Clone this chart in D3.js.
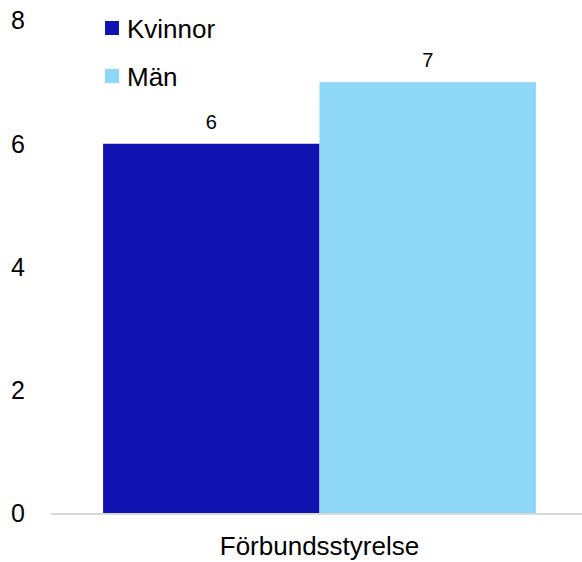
<!DOCTYPE html>
<html><head><meta charset="utf-8">
<script src="https://cdn.jsdelivr.net/npm/d3@7"></script>
<style>body{margin:0;background:#fff}svg{display:block;font-family:"Liberation Sans",Arial,sans-serif}</style>
</head><body><svg id="c" width="582" height="562"></svg>
<script>
const categories = ["Förbundsstyrelse"];
const seriesNames = ["Kvinnor", "Män"];
const kvinnor = [6];
const man = [7];
const yTicks = [0, 2, 4, 6, 8];
const colors = ["#1114b0", "#8ed7f7"];

const svg = d3.select("#c");
const y = d3.scaleLinear().domain([0, 8]).range([513.5, 20.5]);
const x0 = d3.scaleBand().domain(categories).range([51, 588]).paddingInner(0.194).paddingOuter(0.097);
const x1 = d3.scaleBand().domain(seriesNames).range([0, x0.bandwidth()]);
const seriesVals = [kvinnor, man];

// y tick labels
svg.append("g").selectAll("text").data(yTicks).join("text")
  .attr("x", 25).attr("y", d => y(d)).attr("dy", "0.35em")
  .attr("text-anchor", "end").attr("font-size", 25).attr("fill", "#000")
  .text(d => d);

// bars
categories.forEach((c, ci) => {
  seriesNames.forEach((s, si) => {
    const v = seriesVals[si][ci];
    svg.append("rect")
      .attr("x", x0(c) + x1(s)).attr("y", y(v))
      .attr("width", x1.bandwidth()).attr("height", y(0) - y(v))
      .attr("fill", colors[si]);
    svg.append("text")
      .attr("x", x0(c) + x1(s) + x1.bandwidth() / 2).attr("y", y(v) - 15)
      .attr("text-anchor", "middle").attr("font-size", 20).attr("fill", "#000")
      .text(v);
  });
  svg.append("text")
    .attr("x", x0(c) + x0.bandwidth() / 2).attr("y", 555)
    .attr("text-anchor", "middle").attr("font-size", 26).attr("fill", "#000")
    .text(c);
});

// baseline
svg.append("line").attr("x1", 51).attr("x2", 582).attr("y1", y(0) + 0.5).attr("y2", y(0) + 0.5)
  .attr("stroke", "#d9d9d9").attr("stroke-width", 2);

// legend
const lg = svg.append("g");
seriesNames.forEach((s, i) => {
  lg.append("rect").attr("x", 105).attr("y", 21 + i * 48).attr("width", 14).attr("height", 14).attr("fill", colors[i]);
  lg.append("text").attr("x", 127).attr("y", 38 + i * 48).attr("font-size", 26).attr("fill", "#000").text(s);
});
</script></body></html>
